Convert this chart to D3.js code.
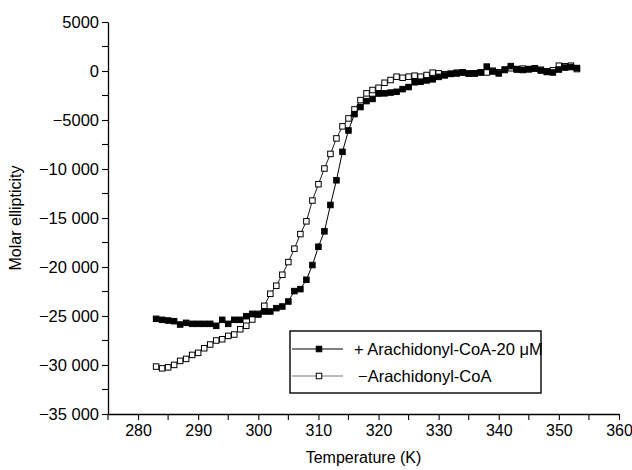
<!DOCTYPE html>
<html>
<head>
<meta charset="utf-8">
<script src="https://cdn.jsdelivr.net/npm/d3@7"></script>
<style>
  body { margin: 0; background: #fff; }
  svg text { font-family: "Liberation Sans", Arial, sans-serif; fill: #000; }
</style>
</head>
<body>
<svg id="chart" width="632" height="470"></svg>
<script>
// temperatures (K)
const temps = [283, 284, 285, 286, 287, 288, 289, 290, 291, 292,
  293, 294, 295, 296, 297, 298, 299, 300, 301, 302,
  303, 304, 305, 306, 307, 308, 309, 310, 311, 312,
  313, 314, 315, 316, 317, 318, 319, 320, 321, 322,
  323, 324, 325, 326, 327, 328, 329, 330, 331, 332,
  333, 334, 335, 336, 337, 338, 339, 340, 341, 342,
  343, 344, 345, 346, 347, 348, 349, 350, 351, 352, 353];

// + Arachidonyl-CoA-20 uM (filled squares)
const plusCoA = [-25290, -25390, -25460, -25530, -25870, -25700, -25800, -25800, -25800, -25800,
  -26000, -25390, -25800, -25390, -25390, -25020, -24780, -24850, -24540, -24540,
  -24200, -24030, -23520, -22460, -22260, -21300, -19800, -17930, -16360, -13670,
  -11150, -8250, -6070, -4400, -3680, -3070, -2850, -2300, -2280, -2200,
  -2120, -1850, -1640, -1150, -1090, -960, -850, -600, -450, -300,
  -250, -150, -250, -250, -150, 450, -50, -250, 150, 500,
  150, 100, 200, 250, 50, -100, -150, 150, 350, 400, 300];

// - Arachidonyl-CoA (open squares)
const minusCoA = [-30160, -30340, -30240, -29990, -29580, -29380, -28970, -28760, -28290, -27910,
  -27500, -27370, -27030, -26890, -26350, -26000, -25360, -24780, -23960, -22730,
  -21910, -20790, -19500, -18130, -16640, -15340, -13220, -11550, -9950, -8460,
  -6880, -5650, -4840, -3920, -2970, -2280, -1940, -1710, -1200, -920,
  -580, -690, -580, -480, -580, -410, -170, -240, -340, -280,
  -170, -130, -280, -240, -130, -150, 30, -130, 100, 280,
  200, 240, 170, 280, 130, -30, 70, 540, 480, 540, 200];

const xTicks = [280, 290, 300, 310, 320, 330, 340, 350, 360];
const xMinor = [275, 285, 295, 305, 315, 325, 335, 345, 355];
const yTicks = [5000, 0, -5000, -10000, -15000, -20000, -25000, -30000, -35000];
const yTickLabels = ["5000", "0", "\u22125000", "\u221210 000", "\u221215 000",
  "\u221220 000", "\u221225 000", "\u221230 000", "\u221235 000"];
const yMinor = [2500, -2500, -7500, -12500, -17500, -22500, -27500, -32500];
const legendLabels = ["+ Arachidonyl-CoA-20 \u03bcM", "\u2212Arachidonyl-CoA"];

const margin = { left: 108, right: 13, top: 22, bottom: 56 };
const W = 632, H = 470;
const fontSize = "16px";

const svg = d3.select("#chart");

const x = d3.scaleLinear().domain([275, 360]).range([margin.left, W - margin.right]);
const y = d3.scaleLinear().domain([-35000, 5000]).range([H - margin.bottom, margin.top]);

// axes
const xAxis = svg.append("g")
  .attr("transform", "translate(0," + (H - margin.bottom) + ")")
  .call(d3.axisBottom(x).tickValues(xTicks).tickSize(6).tickPadding(5).tickSizeOuter(0));
xAxis.selectAll("line.minor")
  .data(xMinor).join("line")
    .attr("class", "minor")
    .attr("x1", d => x(d)).attr("x2", d => x(d))
    .attr("y1", 0).attr("y2", 6);

const yAxis = svg.append("g")
  .attr("transform", "translate(" + margin.left + ",0)")
  .call(d3.axisLeft(y).tickValues(yTicks).tickSize(6).tickPadding(3).tickSizeOuter(0)
    .tickFormat((d, i) => yTickLabels[i]));
yAxis.selectAll("line.minor")
  .data(yMinor).join("line")
    .attr("class", "minor")
    .attr("x1", -6).attr("x2", 0)
    .attr("y1", d => y(d)).attr("y2", d => y(d));

[xAxis, yAxis].forEach(a => {
  a.select("path.domain").attr("stroke", "#000").attr("stroke-width", 1.3);
  a.selectAll("line").attr("stroke", "#000").attr("stroke-width", 1.1);
  a.selectAll("text").style("font-size", fontSize).style("font-family", "Liberation Sans, Arial, sans-serif");
});
yAxis.selectAll("text").style("font-size", "16.5px");

// axis titles
svg.append("text")
  .attr("x", (x.range()[0] + x.range()[1]) / 2)
  .attr("y", H - 7)
  .attr("text-anchor", "middle")
  .style("font-size", fontSize)
  .text("Temperature (K)");

svg.append("text")
  .attr("transform", "translate(21," + ((y.range()[0] + y.range()[1]) / 2) + ")rotate(-90)")
  .attr("text-anchor", "middle")
  .style("font-size", fontSize)
  .text("Molar ellipticity");

// series
const line = d3.line().x(d => x(d[0])).y(d => y(d[1]));
const series = [
  { name: legendLabels[0], values: temps.map((t, i) => [t, plusCoA[i]]), fill: "#000", lw: 1.0, lc: "#000" },
  { name: legendLabels[1], values: temps.map((t, i) => [t, minusCoA[i]]), fill: "#fff", lw: 0.9, lc: "#777" }
];
const ms = 5.5;

const plot = svg.append("g");
series.forEach(s => {
  plot.append("path")
    .datum(s.values)
    .attr("fill", "none")
    .attr("stroke", "#000")
    .attr("stroke-width", s.lw)
    .attr("d", line);
});
series.slice().reverse().forEach(s => {
  plot.append("g")
    .selectAll("rect")
    .data(s.values)
    .join("rect")
      .attr("x", d => x(d[0]) - ms / 2)
      .attr("y", d => y(d[1]) - ms / 2)
      .attr("width", ms)
      .attr("height", ms)
      .attr("fill", s.fill)
      .attr("stroke", "#000")
      .attr("stroke-width", 1);
});

// legend
const lg = svg.append("g").attr("transform", "translate(290,331)");
lg.append("rect")
  .attr("width", 251).attr("height", 62)
  .attr("fill", "#fff").attr("stroke", "#000").attr("stroke-width", 1.4);
series.forEach((s, i) => {
  const ly = 18 + i * 27;
  lg.append("line")
    .attr("x1", 2).attr("x2", 53).attr("y1", ly).attr("y2", ly)
    .attr("stroke", s.lc).attr("stroke-width", 1);
  lg.append("rect")
    .attr("x", 29 - ms / 2).attr("y", ly - ms / 2)
    .attr("width", ms).attr("height", ms)
    .attr("fill", s.fill).attr("stroke", "#000");
  lg.append("text")
    .attr("x", i === 0 ? 64 : 68).attr("y", ly + 6)
    .style("font-size", "16.5px")
    .attr("letter-spacing", i === 1 ? "0" : null)
    .text(s.name);
});
</script>
</body>
</html>
